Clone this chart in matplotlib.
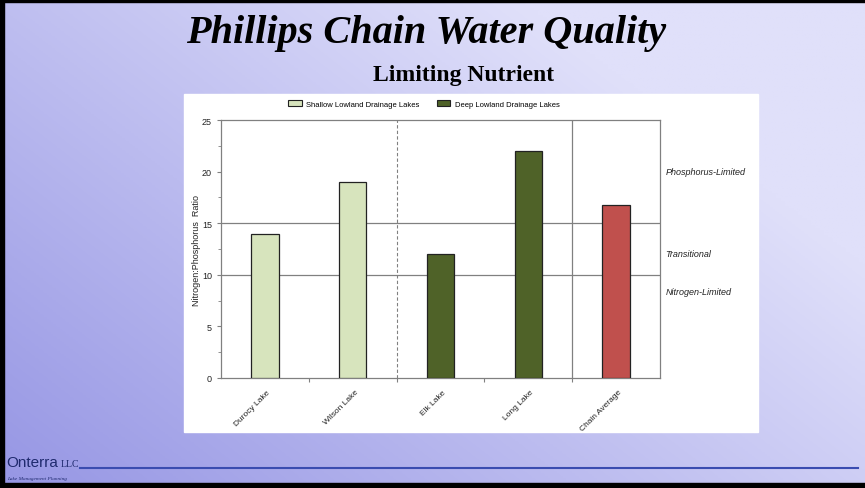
import numpy as np
import matplotlib.pyplot as plt
from matplotlib.patches import Rectangle, Patch
from matplotlib.lines import Line2D
from matplotlib.ticker import MultipleLocator

lakes = ["Durocy Lake", "Wilson Lake", "Elk Lake", "Long Lake", "Chain Average"]
np_ratio = [14, 19, 12, 22, 16.75]
lake_type = ["shallow", "shallow", "deep", "deep", "avg"]
type_colors = {"shallow": "#d7e4bd", "deep": "#4f6228", "avg": "#c0504d"}
legend_labels = ["Shallow Lowland Drainage Lakes", "Deep Lowland Drainage Lakes"]
zone_labels = ["Phosphorus-Limited", "Transitional", "Nitrogen-Limited"]
zone_y = [20, 12.1, 8.4]
thresholds = [10, 15]

plt.rcParams['font.family'] = ['Liberation Sans', 'DejaVu Sans']

fig = plt.figure(figsize=(8.65, 4.89), dpi=100)

# slide background gradient
bg = fig.add_axes([0, 0, 1, 1], zorder=-10)
xx, yy = np.meshgrid(np.linspace(0, 1, 200), np.linspace(0, 1, 200))
t = np.clip(0.75 * xx + 0.55 * (1 - yy), 0, 1)
c0 = np.array([150, 150, 228]) / 255
c1 = np.array([224, 224, 250]) / 255
img = c0[None, None, :] * (1 - t[..., None]) + c1[None, None, :] * t[..., None]
bg.imshow(img, extent=[0, 1, 0, 1], aspect='auto', origin='upper')
bg.set_xlim(0, 1)
bg.set_ylim(0, 1)
bg.axis('off')

# slide borders
fig.add_artist(Rectangle((0, 1 - 3 / 489), 1, 3 / 489, transform=fig.transFigure, color='black'))
fig.add_artist(Rectangle((0, 0), 4 / 865, 1, transform=fig.transFigure, color='black'))
fig.add_artist(Rectangle((0, 0), 1, 5 / 489, transform=fig.transFigure, color='black'))

# white chart panel
fig.add_artist(Rectangle((184 / 865, 1 - 433 / 489), 574 / 865, 338 / 489,
                         transform=fig.transFigure, color='white', zorder=-5))

fig.text(426 / 865, 1 - 33 / 489, "Phillips Chain Water Quality", ha='center', va='center',
         fontsize=29, fontweight='bold', fontstyle='italic',
         family=['Liberation Serif', 'DejaVu Serif'])
fig.text(464 / 865, 1 - 76 / 489, "Limiting Nutrient", ha='center', va='center',
         fontsize=17, fontweight='bold', family=['Liberation Serif', 'DejaVu Serif'])

ax = fig.add_axes([221 / 865, 1 - 379 / 489, 439 / 865, 258 / 489])
x = np.arange(len(lakes))
ax.bar(x, np_ratio, width=0.31, color=[type_colors[k] for k in lake_type],
       edgecolor='#222222', linewidth=0.9, zorder=3)

ax.set_xlim(-0.5, len(lakes) - 0.5)
ax.set_ylim(0, 25)
ax.yaxis.set_major_locator(MultipleLocator(5))
ax.yaxis.set_minor_locator(MultipleLocator(2.5))
ax.set_xticks(x[:-1] + 0.5)
ax.set_xticklabels([])
for xi, lab in zip(x, lakes):
    ax.text(xi + 0.02, -1.0, lab, rotation=45, ha='right', va='top', rotation_mode='anchor',
            fontsize=6, color='#222222')
ax.tick_params(axis='x', length=3, color='#808080', direction='out')
ax.tick_params(axis='y', labelsize=6.5, length=3, color='#808080', labelcolor='#222222')
ax.tick_params(axis='y', which='minor', length=2, color='#808080')
for s in ax.spines.values():
    s.set_color('#808080')
    s.set_linewidth(0.9)

for th in thresholds:
    ax.axhline(th, color='#808080', linewidth=0.9, zorder=1)
ax.axvline(1.5, color='#808080', linewidth=0.8, linestyle=(0, (3, 2)), zorder=1)
ax.axvline(3.5, color='#808080', linewidth=0.9, zorder=1)

for lab, yv in zip(zone_labels, zone_y):
    ax.text(1.012, yv, lab, transform=ax.get_yaxis_transform(), ha='left', va='center',
            fontsize=6.5, fontstyle='italic', color='#222222')

ax.set_ylabel("Nitrogen:Phosphorus  Ratio", fontsize=6.5, color='#222222', labelpad=1)

handles = [Patch(facecolor=type_colors["shallow"], edgecolor='#222222', linewidth=0.8),
           Patch(facecolor=type_colors["deep"], edgecolor='#222222', linewidth=0.8)]
fig.legend(handles, legend_labels, loc='center', bbox_to_anchor=(424 / 865, 1 - 105 / 489),
           ncol=2, frameon=False, fontsize=5.5, handlelength=1.8, handleheight=0.9,
           columnspacing=2.2, handletextpad=0.6)

# footer logo
fig.text(6 / 865, 1 - 463 / 489, "Onterra", ha='left', va='center', fontsize=11,
         color='#1f2a6e', family=['Liberation Sans', 'DejaVu Sans'])
fig.text(61 / 865, 1 - 465 / 489, "LLC", ha='left', va='center', fontsize=7,
         color='#1f2a6e', family=['Liberation Serif', 'DejaVu Serif'])
fig.text(7 / 865, 1 - 479 / 489, "Lake Management Planning", ha='left', va='center',
         fontsize=3.8, fontstyle='italic', color='#1f2a6e',
         family=['Liberation Serif', 'DejaVu Serif'])
fig.add_artist(Line2D([80 / 865, 858 / 865], [1 - 469 / 489, 1 - 469 / 489],
                      transform=fig.transFigure, color='#3a4cb0', linewidth=1.5))

fig.savefig("out.png", dpi=100)
